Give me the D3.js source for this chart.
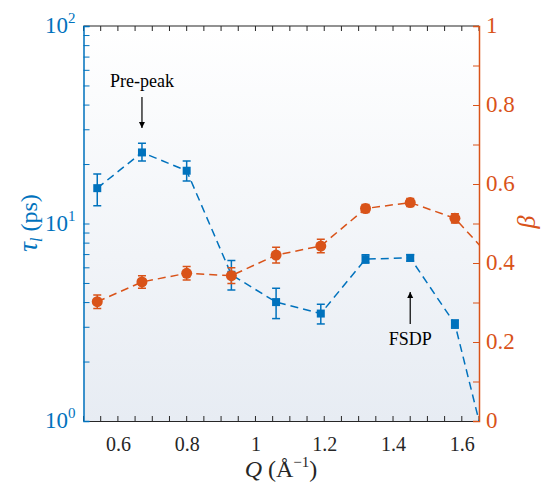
<!DOCTYPE html>
<html>
<head>
<meta charset="utf-8">
<script src="https://cdn.jsdelivr.net/npm/d3@7"></script>
<style>
  html, body { margin: 0; padding: 0; background: #ffffff; }
  svg { display: block; }
</style>
</head>
<body>
<svg id="chart" width="546" height="487"></svg>
<script>
// Scattering vector Q (Å^-1)
const q = [0.54, 0.67, 0.80, 0.93, 1.06, 1.19, 1.32, 1.45, 1.58, 1.71];
// Relaxation time tau_l (ps) with lower / upper error bounds
const tau   = [15.1, 22.9, 18.5, 5.5, 4.0, 3.5, 6.6, 6.7, 3.1, 0.38];
const tauLo = [12.3, 20.7, 16.4, 4.6, 3.3, 3.1, 6.3, 6.45, 2.95, 0.35];
const tauHi = [17.8, 25.5, 20.7, 6.5, 4.7, 3.9, 6.95, 6.95, 3.25, 0.41];
// Stretching exponent beta with symmetric errors
const beta    = [0.302, 0.352, 0.374, 0.368, 0.420, 0.443, 0.538, 0.553, 0.513, 0.39];
const betaErr = [0.017, 0.016, 0.017, 0.020, 0.020, 0.017, 0.010, 0.010, 0.012, 0.010];
// Axis ticks
const xTicks = [0.6, 0.8, 1.0, 1.2, 1.4, 1.6];
const xMinor = d3.range(0.5, 1.651, 0.05);
const tauTicks = [1, 10, 100];
const betaTicks = [0, 0.2, 0.4, 0.6, 0.8, 1];
const betaMinor = d3.range(0, 1.001, 0.1);
// Annotations
const notes = [
  { label: "Pre-peak", q: 0.67, textY: 87, from: 97, to: 128 },
  { label: "FSDP", q: 1.45, textY: 345, from: 324, to: 292 }
];

const blue = "#0072BD", orange = "#D95319";
const SERIF = "Times New Roman, Liberation Serif, Tinos, Noto Serif, DejaVu Serif, serif";
const MATH = SERIF;
const L = 83.5, R = 479, T = 26, B = 421;

const svg = d3.select("#chart");
const x = d3.scaleLinear().domain([0.5, 1.65]).range([L, R]);
const yTau = d3.scaleLog().domain([1, 100]).range([B, T]);
const yBeta = d3.scaleLinear().domain([0, 1]).range([B, T]);

const defs = svg.append("defs");
const grad = defs.append("linearGradient").attr("id", "bg")
  .attr("x1", 0).attr("y1", 0).attr("x2", 0).attr("y2", 1);
grad.append("stop").attr("offset", "0%").attr("stop-color", "#ffffff");
grad.append("stop").attr("offset", "100%").attr("stop-color", "#e7ecf3");
defs.append("clipPath").attr("id", "plotClip")
  .append("rect").attr("x", L).attr("y", T).attr("width", R - L).attr("height", B - T);
const marker = defs.append("marker").attr("id", "arrow")
  .attr("viewBox", "0 0 10 10").attr("refX", 10).attr("refY", 5)
  .attr("markerWidth", 6).attr("markerHeight", 9).attr("orient", "auto")
  .attr("markerUnits", "userSpaceOnUse");
marker.append("path").attr("d", "M0,0 L10,5 L0,10 Z").attr("fill", "#000");

svg.append("rect").attr("x", L).attr("y", T).attr("width", R - L).attr("height", B - T)
  .attr("fill", "url(#bg)");

// Bottom and top axes
const gx = svg.append("g").attr("transform", `translate(0,${B})`)
  .call(d3.axisBottom(x).tickValues(xTicks).tickSize(0).tickPadding(16)
    .tickFormat(d => d3.format("~g")(+d.toFixed(2))));
gx.attr("font-family", MATH).attr("font-size", 20);
gx.select(".domain").attr("stroke", "#262626").attr("stroke-width", 1.2);
gx.selectAll("text").attr("fill", "#262626");
svg.append("g").selectAll("line").data(xMinor).join("line")
  .attr("x1", d => x(d)).attr("x2", d => x(d)).attr("y1", B).attr("y2", B - 5)
  .attr("stroke", "#262626").attr("stroke-width", 1);
svg.append("g").selectAll("line").data(xMinor).join("line")
  .attr("x1", d => x(d)).attr("x2", d => x(d)).attr("y1", T).attr("y2", T + 5)
  .attr("stroke", "#262626").attr("stroke-width", 1);
svg.append("line").attr("x1", L).attr("x2", R).attr("y1", T).attr("y2", T)
  .attr("stroke", "#262626").attr("stroke-width", 1.2);

// Left log axis
const gl = svg.append("g").attr("transform", `translate(${L},0)`)
  .call(d3.axisRight(yTau).tickValues(yTau.ticks()).tickSize(6).tickFormat(""));
gl.select(".domain").attr("stroke", blue).attr("stroke-width", 1.5);
gl.selectAll(".tick line").attr("stroke", blue);
const ll = svg.append("g").attr("font-family", MATH).attr("font-size", 23)
  .selectAll("text").data(tauTicks).join("text")
  .attr("x", L - 8).attr("y", d => yTau(d) + 7).attr("text-anchor", "end")
  .attr("fill", blue);
ll.append("tspan").text("10");
ll.append("tspan").attr("dy", -10).attr("font-size", 15).text(d => Math.round(Math.log10(d)));

// Right linear axis
const gr = svg.append("g").attr("transform", `translate(${R},0)`)
  .call(d3.axisLeft(yBeta).tickValues(betaMinor).tickSize(6).tickFormat(""));
gr.select(".domain").attr("stroke", orange).attr("stroke-width", 1.5);
gr.selectAll(".tick line").attr("stroke", orange);
svg.append("g").attr("font-family", MATH).attr("font-size", 23)
  .selectAll("text").data(betaTicks).join("text")
  .attr("x", R + 7).attr("y", d => yBeta(d) + 7).attr("fill", orange)
  .text(d => d3.format("~g")(d));

// Axis titles
const xl = svg.append("text").attr("x", 281).attr("y", 477).attr("text-anchor", "middle")
  .attr("font-size", 24).attr("font-family", MATH).attr("fill", "#262626");
xl.append("tspan").attr("font-style", "italic").text("Q");
xl.append("tspan").text(" (Å");
xl.append("tspan").attr("dy", -10).attr("font-size", 15).text("−1");
xl.append("tspan").attr("dy", 10).text(")");

const yl = svg.append("text").attr("transform", "translate(37,223) rotate(-90)")
  .attr("text-anchor", "middle").attr("font-size", 24).attr("font-family", MATH)
  .attr("fill", blue);
yl.append("tspan").attr("font-style", "italic").attr("font-size", 27).text("τ");
yl.append("tspan").attr("font-style", "italic").attr("font-size", 16).attr("dy", 5).text("l");
yl.append("tspan").attr("dy", -5).text(" (ps)");

svg.append("text").attr("transform", "translate(535,222) rotate(-90)")
  .attr("text-anchor", "middle").attr("font-size", 26).attr("font-style", "italic")
  .attr("font-family", MATH).attr("fill", orange).text("β");

// Data
const plot = svg.append("g").attr("clip-path", "url(#plotClip)");
const idx = d3.range(q.length);

function series(g, color, yScale, yv, lo, hi, shape) {
  g.append("path").datum(idx)
    .attr("d", d3.line().x(i => x(q[i])).y(i => yScale(yv[i])))
    .attr("fill", "none").attr("stroke", color).attr("stroke-width", 1.5)
    .attr("stroke-dasharray", "8,5");
  const eb = g.append("g").selectAll("g").data(idx).join("g").attr("stroke", color)
    .attr("stroke-width", 1.5);
  eb.append("line").attr("x1", i => x(q[i])).attr("x2", i => x(q[i]))
    .attr("y1", i => yScale(lo(i))).attr("y2", i => yScale(hi(i)));
  eb.append("line").attr("x1", i => x(q[i]) - 4).attr("x2", i => x(q[i]) + 4)
    .attr("y1", i => yScale(lo(i))).attr("y2", i => yScale(lo(i)));
  eb.append("line").attr("x1", i => x(q[i]) - 4).attr("x2", i => x(q[i]) + 4)
    .attr("y1", i => yScale(hi(i))).attr("y2", i => yScale(hi(i)));
  if (shape === "square") {
    g.append("g").selectAll("rect").data(idx).join("rect")
      .attr("x", i => x(q[i]) - 4).attr("y", i => yScale(yv[i]) - 4)
      .attr("width", 8).attr("height", 8).attr("fill", color);
  } else {
    g.append("g").selectAll("circle").data(idx).join("circle")
      .attr("cx", i => x(q[i])).attr("cy", i => yScale(yv[i])).attr("r", 5.5)
      .attr("fill", color);
  }
}
series(plot.append("g"), blue, yTau, tau, i => tauLo[i], i => tauHi[i], "square");
series(plot.append("g"), orange, yBeta, beta, i => beta[i] - betaErr[i], i => beta[i] + betaErr[i], "circle");

// Annotations
const na = svg.append("g").attr("font-family", SERIF).attr("font-size", 18)
  .selectAll("g").data(notes).join("g");
na.append("text").attr("x", d => x(d.q)).attr("y", d => d.textY).attr("text-anchor", "middle")
  .attr("fill", "#000").text(d => d.label);
na.append("line").attr("x1", d => x(d.q)).attr("x2", d => x(d.q))
  .attr("y1", d => d.from).attr("y2", d => d.to)
  .attr("stroke", "#000").attr("stroke-width", 1.2).attr("marker-end", "url(#arrow)");
</script>
</body>
</html>
